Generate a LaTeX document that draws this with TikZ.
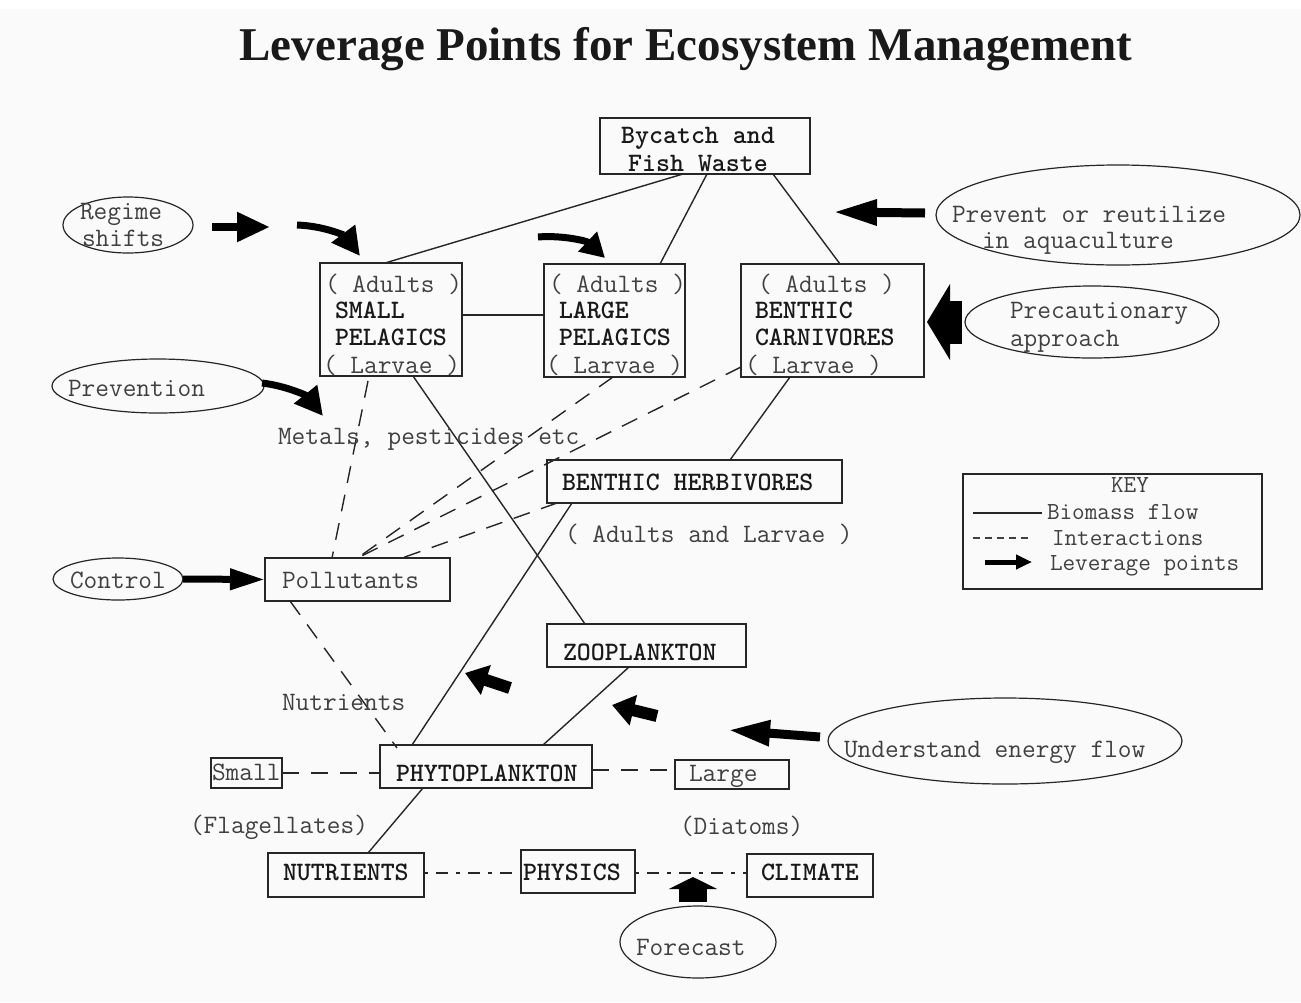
\documentclass[tikz,border=0pt]{standalone}
\usepackage{fontspec}
\setmainfont{Liberation Serif}
\usetikzlibrary{arrows.meta,shapes.geometric}

\begin{document}
\begin{tikzpicture}[x=1pt,y=-1pt,
  every node/.style={inner sep=0pt, outer sep=0pt},
  box/.style={draw=black!85, line width=1.3pt},
  oval/.style={draw=black!85, line width=1.2pt, ellipse},
  mono/.style={font=\ttfamily\fontsize{26.6}{29}\selectfont, text=black!75, anchor=base west},
  bmono/.style={font=\ttfamily\bfseries\fontsize{26.6}{29}\selectfont, text=black!90, anchor=base west},
  keytxt/.style={font=\ttfamily\fontsize{24.5}{27}\selectfont, text=black!75, anchor=base west},
  flow/.style={line width=1.4pt, draw=black!85},
  inter/.style={line width=1.4pt, draw=black!85, dash pattern=on 17pt off 12pt},
  inter2/.style={line width=1.4pt, draw=black!85, dash pattern=on 4pt off 8pt on 12pt off 8pt},
  lev/.style={line width=#1, draw=black, line cap=butt},
]
% page
\fill[white] (0,0) rectangle (1301,1002);
\fill[black!2] (0,9) rectangle (1301,1002);
\useasboundingbox (0,0) rectangle (1301,1002);

% title
\node[font=\bfseries\fontsize{47}{50}\selectfont, anchor=base, text=black!90] (title) at (686,60)
  {Leverage Points for Ecosystem Management};

% ---- boxes ----
\node[box, minimum width=210, minimum height=56] (byc) at (705,146) {};
\node[box, minimum width=142, minimum height=113] (sp) at (391,319.5) {};
\node[box, minimum width=141, minimum height=113] (lp) at (614.5,320.5) {};
\node[box, minimum width=183, minimum height=113] (bc) at (832.5,320.5) {};
\node[box, minimum width=295, minimum height=43] (bh) at (694.5,481.5) {};
\node[box, minimum width=199, minimum height=43] (zoo) at (646.5,645.5) {};
\node[box, minimum width=185, minimum height=43] (pol) at (357.5,579.5) {};
\node[box, minimum width=212, minimum height=43] (phy) at (486,766.5) {};
\node[box, minimum width=71, minimum height=30] (small) at (246.5,773) {};
\node[box, minimum width=114, minimum height=29] (large) at (732,774.5) {};
\node[box, minimum width=156, minimum height=44] (nut) at (346,875) {};
\node[box, minimum width=114, minimum height=43] (phys) at (578,871.5) {};
\node[box, minimum width=126, minimum height=43] (clim) at (810,875.5) {};
\node[box, line width=1.1pt, minimum width=299, minimum height=115] (key) at (1112.5,531.5) {};

% ---- ovals ----
\node[oval, minimum width=130, minimum height=56] (reg) at (128,225) {};
\node[oval, minimum width=364, minimum height=100] (prv) at (1118,215) {};
\node[oval, minimum width=254, minimum height=72] (pre) at (1092,322) {};
\node[oval, minimum width=212, minimum height=54] (pvn) at (158,386) {};
\node[oval, minimum width=130, minimum height=42] (ctl) at (118,579) {};
\node[oval, minimum width=354, minimum height=86] (und) at (1005,741) {};
\node[oval, minimum width=156, minimum height=72] (fct) at (698,942) {};

% ---- biomass flow ----
\draw[flow] ([xshift=-22pt]byc.south) -- ([xshift=-6pt]sp.north);
\draw[flow] ([xshift=2pt]byc.south) -- ([xshift=45.5pt]lp.north);
\draw[flow] ([xshift=68pt]byc.south) -- ([xshift=7.5pt]bc.north);
\draw[flow] ([yshift=4.5pt]sp.east) -- ([yshift=5.5pt]lp.west);
\draw[flow] ([xshift=22pt]sp.south) -- ([xshift=-61.5pt]zoo.north);
\draw[flow] ([xshift=-42.5pt]bc.south) -- ([xshift=35.5pt]bh.north);
\draw[flow] ([xshift=-122.5pt]bh.south) -- ([xshift=-74pt]phy.north);
\draw[flow] ([xshift=-17.5pt]zoo.south) -- ([xshift=57pt]phy.north);
\draw[flow] ([xshift=-63pt]phy.south) -- ([xshift=22pt]nut.north);

% ---- interactions ----
\draw[inter] ([xshift=-23pt,yshift=-5pt]sp.south) -- ([xshift=-25.5pt]pol.north);
\draw[inter] ([xshift=-1.5pt]lp.south) -- (pol.north);
\draw[inter] ([yshift=10pt]bc.south west) -- (pol.north);
\draw[inter] ([xshift=10pt]bh.south west) -- ([xshift=44.5pt]pol.north);
\draw[inter] ([xshift=25pt]pol.south west) -- ([xshift=17pt,yshift=-3pt]phy.north west);
\draw[inter] (small.east) -- ([yshift=-6.5pt]phy.west);
\draw[inter] ([yshift=-3.5pt]phy.east) -- ([yshift=4.5pt]large.west);
\draw[inter2] ([yshift=2pt]nut.east) -- ([yshift=-1.5pt]phys.west);
\draw[inter2] ([yshift=-1.5pt]phys.east) -- ([yshift=2.5pt]clim.west);

% ---- box texts ----
\node[bmono, anchor=base] (byc1) at (698,143) {Bycatch and};
\node[bmono, anchor=base] (byc2) at (698,171) {Fish Waste};

\node[mono]  (sp1) at (325,292) {( Adults )};
\node[bmono] (sp2) at (335,318) {SMALL};
\node[bmono] (sp3) at (335,345) {PELAGICS};
\node[mono]  (sp4) at (323,373) {( Larvae )};

\node[mono]  (lp1) at (549,292) {( Adults )};
\node[bmono] (lp2) at (559,318) {LARGE};
\node[bmono] (lp3) at (559,345) {PELAGICS};
\node[mono]  (lp4) at (546,373) {( Larvae )};

\node[mono]  (bc1) at (758,292) {( Adults )};
\node[bmono] (bc2) at (755,318) {BENTHIC};
\node[bmono] (bc3) at (755,345) {CARNIVORES};
\node[mono]  (bc4) at (745,373) {( Larvae )};

\node[bmono] (bht) at (562,490) {BENTHIC HERBIVORES};
\node[mono]  (bhl) at (565,542) {( Adults and Larvae )};
\node[bmono] (zoot) at (563,660) {ZOOPLANKTON};
\node[mono]  (polt) at (282,588) {Pollutants};
\node[bmono] (phyt) at (396,781) {PHYTOPLANKTON};
\node[mono]  (smallt) at (212,780) {Small};
\node[mono]  (larget) at (689,781) {Large};
\node[bmono] (nutt) at (283,880) {NUTRIENTS};
\node[bmono] (physt) at (523,880) {PHYSICS};
\node[bmono] (climt) at (761,880) {CLIMATE};

\node[mono] (metals) at (278,444) {Metals, pesticides etc};
\node[mono] (nutl) at (282,710) {Nutrients};
\node[mono] (flag) at (190,833) {(Flagellates)};
\node[mono] (diat) at (680,834) {(Diatoms)};

% ---- oval texts ----
\node[mono] (reg1) at (80,219) {Regime};
\node[mono] (reg2) at (82,246) {shifts};
\node[mono] (prv1) at (952,222) {Prevent or reutilize};
\node[mono] (prv2) at (982,248) {in aquaculture};
\node[mono] (pre1) at (1010,318) {Precautionary};
\node[mono] (pre2) at (1010,346) {approach};
\node[mono] (pvnt) at (68,396) {Prevention};
\node[mono] (ctlt) at (70,588) {Control};
\node[mono] (undt) at (844,757) {Understand energy flow};
\node[mono] (fctt) at (636,955) {Forecast};

% ---- leverage points ----
\coordinate (ra) at (212,227); \coordinate (rb) at (270,227);
\draw[lev=8pt, -{Triangle[length=33pt,width=28pt]}] (ra) -- (rb);
\coordinate (rc) at (297,225); \coordinate (rd) at (360,256);
\draw[lev=7pt, -{Triangle[length=28pt,width=28pt]}] (rc) .. controls (325,226) and (345,236) .. (rd);
\coordinate (la) at (538,237); \coordinate (lb) at (605,258);
\draw[lev=7pt, -{Triangle[length=24pt,width=26pt]}] (la) .. controls (562,235) and (587,241) .. (lb);
\coordinate (pa) at (262,383); \coordinate (pb) at (323,416);
\draw[lev=7pt, -{Triangle[length=28pt,width=28pt]}] (pa) .. controls (287,386) and (307,396) .. (pb);
\draw[lev=7pt, -{Triangle[length=35pt,width=20pt]}] (ctl.east) -- (pol.west);
\coordinate (wa) at (925,213); \coordinate (wb) at (833,212);
\draw[lev=9pt, -{Triangle[length=44pt,width=24pt]}] (wa) -- (wb);
\coordinate (ca) at (962,322); \coordinate (cb) at (927,322);
\draw[lev=43pt, -{Triangle[length=23pt,width=75pt]}] (ca) -- (cb);
\coordinate (a1) at (510,688); \coordinate (b1) at (465,673);
\draw[lev=12pt, -{Triangle[length=22pt,width=30pt]}] (a1) -- (b1);
\coordinate (a2) at (657,716); \coordinate (b2) at (612,705);
\draw[lev=12pt, -{Triangle[length=22pt,width=30pt]}] (a2) -- (b2);
\coordinate (ua) at (820,737); \coordinate (ub) at (728,730);
\draw[lev=9pt, -{Triangle[length=42pt,width=24pt]}] (ua) -- (ub);
\coordinate (fa) at (693,902); \coordinate (fb) at (693,877);
\draw[lev=28pt, -{Triangle[length=12pt,width=48pt]}] (fa) -- (fb);

% ---- key ----
\node[keytxt, anchor=base] (keyt) at (1130,492) {KEY};
\coordinate (k1a) at (973,513); \coordinate (k1b) at (1042,513);
\draw[flow] (k1a) -- (k1b);
\node[keytxt] (k1) at (1047,519) {Biomass flow};
\coordinate (k2a) at (973,538); \coordinate (k2b) at (1030,538);
\draw[line width=1.2pt, draw=black!75, dash pattern=on 7pt off 5pt] (k2a) -- (k2b);
\node[keytxt] (k2) at (1052,545) {Interactions};
\coordinate (k3a) at (985,562); \coordinate (k3b) at (1032,562);
\draw[lev=5pt, -{Triangle[length=16pt,width=14pt]}] (k3a) -- (k3b);
\node[keytxt] (k3) at (1050,570) {Leverage points};
\end{tikzpicture}
\end{document}
